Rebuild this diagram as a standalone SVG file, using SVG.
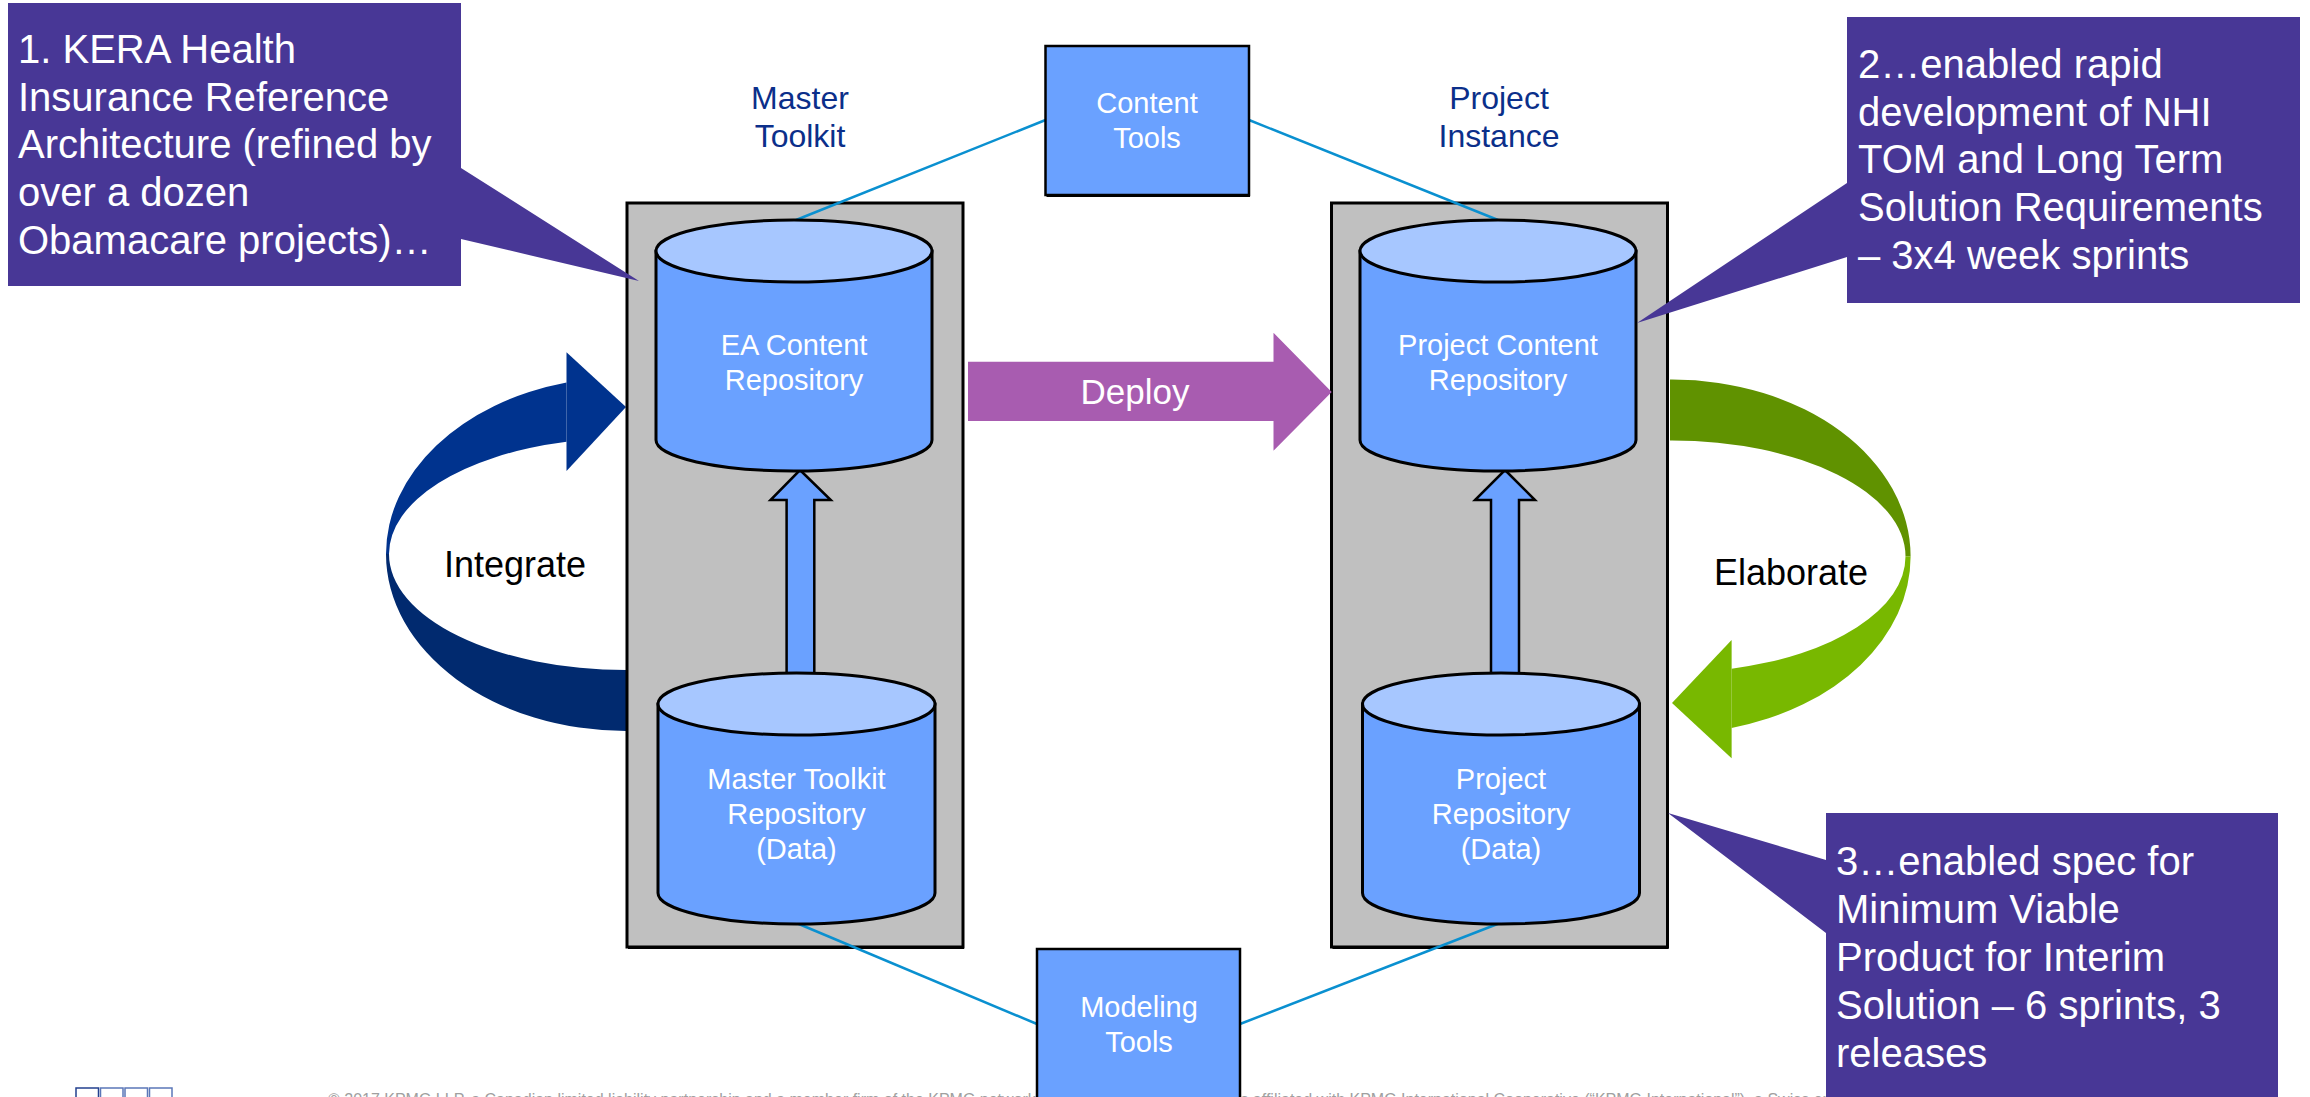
<svg xmlns="http://www.w3.org/2000/svg" width="2310" height="1097" viewBox="0 0 2310 1097">
  <style>
    .panel { fill: #c0c0c0; stroke: #000; stroke-width: 3; }
    .shade { fill: #000; }
    .body { fill: #6aa1ff; stroke: #000; stroke-width: 3; }
    .lid { fill: #a7c7ff; stroke: #000; stroke-width: 3; }
    .tool { fill: #6aa1ff; stroke: #000; stroke-width: 2.5; }
    .lift { fill: #6aa1ff; stroke: #000; stroke-width: 2.5; stroke-linejoin: miter; }
    .link { stroke: #0a90d0; stroke-width: 2.5; fill: none; }
    .callout { fill: #483796; }
    .ctext { font-family: "Liberation Sans", Arial, sans-serif; font-size: 40px; fill: #fff; }
    .wtext { font-family: "Liberation Sans", Arial, sans-serif; font-size: 29px; fill: #fff; text-anchor: middle; }
    .htext { font-family: "Liberation Sans", Arial, sans-serif; font-size: 32px; fill: #0b2f8a; text-anchor: middle; }
    .btext { font-family: "Liberation Sans", Arial, sans-serif; font-size: 36px; fill: #000; text-anchor: middle; }
  </style>

  <rect width="2310" height="1097" fill="#fff"/>

  <!-- Integrate: curved arrow on the left -->
  <g id="integrate-arrow">
    <path d="M566.5,382.5 A240,177 0 0 0 386,554 L389,554 A237,116 0 0 1 566.5,441.7 Z" fill="#00338e"/>
    <path d="M386,554 A240,177 0 0 0 626,731 L629,731 L629,670 L626,670 A237,116 0 0 1 389,554 Z" fill="#012a6f"/>
    <polygon points="566.5,352.3 626,407 566.5,471" fill="#00338e"/>
    <text class="btext" x="515" y="577">Integrate</text>
  </g>

  <!-- Elaborate: curved arrow on the right -->
  <g id="elaborate-arrow">
    <path d="M1670,379.5 L1672,379.5 A238.6,177 0 0 1 1910.6,556.5 L1905.5,556.5 A233.5,116 0 0 0 1672,440.5 L1670,440.5 Z" fill="#609200"/>
    <path d="M1910.6,556.5 A238.6,177 0 0 1 1731.6,727.9 L1731.6,668.7 A233.5,116 0 0 0 1905.5,556.5 Z" fill="#78b800"/>
    <polygon points="1731.6,640 1672,703 1731.6,758.3" fill="#78b800"/>
    <text class="btext" x="1791" y="585">Elaborate</text>
  </g>

  <!-- Column frames -->
  <g id="master-toolkit">
    <rect class="shade" x="628" y="205" width="336" height="744"/>
    <rect class="panel" x="627" y="203" width="336" height="744"/>
    <text class="htext" x="800" y="109">Master</text>
    <text class="htext" x="800" y="147">Toolkit</text>
  </g>
  <g id="project-instance">
    <rect class="shade" x="1332.5" y="205" width="336" height="744"/>
    <rect class="panel" x="1331.5" y="203" width="336" height="744"/>
    <text class="htext" x="1499" y="109">Project</text>
    <text class="htext" x="1499" y="147">Instance</text>
  </g>

  <!-- Tool links -->
  <g id="connectors">
    <line class="link" x1="1045.5" y1="120" x2="796" y2="220"/>
    <line class="link" x1="1249" y1="120" x2="1498" y2="220"/>
    <line class="link" x1="1037" y1="1024" x2="796.5" y2="923"/>
    <line class="link" x1="1240" y1="1024" x2="1500" y2="923"/>
    <polygon class="lift" points="800,470 830.8,500 814.3,500 814.3,690 786.6,690 786.6,500 770.5,500"/>
    <polygon class="lift" points="1505,470 1535,500 1519,500 1519,690 1491,690 1491,500 1475,500"/>
    <polygon points="968,361.7 1273.5,361.7 1273.5,332.7 1331.7,392 1273.5,450.7 1273.5,421 968,421" fill="#a85cb0"/>
    <text x="1135" y="404" font-family="Liberation Sans, Arial, sans-serif" font-size="35" fill="#fff" text-anchor="middle">Deploy</text>
  </g>

  <!-- Repositories -->
  <g id="ea-content-repository">
    <path class="body" d="M656,251 V440 A138,31 0 0 0 932,440 V251 Z"/>
    <ellipse class="lid" cx="794" cy="251" rx="138" ry="31"/>
    <text class="wtext" x="794" y="355">EA Content</text>
    <text class="wtext" x="794" y="390">Repository</text>
  </g>
  <g id="project-content-repository">
    <path class="body" d="M1360,251 V440 A138,31 0 0 0 1636,440 V251 Z"/>
    <ellipse class="lid" cx="1498" cy="251" rx="138" ry="31"/>
    <text class="wtext" x="1498" y="355">Project Content</text>
    <text class="wtext" x="1498" y="390">Repository</text>
  </g>
  <g id="master-toolkit-repository">
    <path class="body" d="M658,704 V893 A138.5,31 0 0 0 935,893 V704 Z"/>
    <ellipse class="lid" cx="796.5" cy="704" rx="138.5" ry="31"/>
    <text class="wtext" x="796.5" y="789">Master Toolkit</text>
    <text class="wtext" x="796.5" y="824">Repository</text>
    <text class="wtext" x="796.5" y="859">(Data)</text>
  </g>
  <g id="project-repository">
    <path class="body" d="M1362.5,704 V893 A138.5,31 0 0 0 1639.5,893 V704 Z"/>
    <ellipse class="lid" cx="1501" cy="704" rx="138.5" ry="31"/>
    <text class="wtext" x="1501" y="789">Project</text>
    <text class="wtext" x="1501" y="824">Repository</text>
    <text class="wtext" x="1501" y="859">(Data)</text>
  </g>

  <!-- Footer -->
  <g id="footer">
    <rect x="76" y="1088" width="22.5" height="30" fill="none" stroke="#23408f" stroke-width="1.5"/>
    <rect x="100.5" y="1088" width="22.5" height="30" fill="none" stroke="#5b77b8" stroke-width="1.5"/>
    <rect x="125" y="1088" width="22.5" height="30" fill="none" stroke="#5b77b8" stroke-width="1.5"/>
    <rect x="149.5" y="1088" width="22.5" height="30" fill="none" stroke="#5b77b8" stroke-width="1.5"/>
    <text x="328" y="1104.5" font-family="Liberation Sans, Arial, sans-serif" font-size="16" fill="#a0a0a0">© 2017 KPMG LLP, a Canadian limited liability partnership and a member firm of the KPMG network of independent member firms affiliated with KPMG International Cooperative (“KPMG International”), a Swiss entity. All rights reserved.</text>
  </g>

  <!-- Tools -->
  <g id="content-tools">
    <rect class="shade" x="1046.5" y="48" width="203.5" height="149"/>
    <rect class="tool" x="1045.5" y="46" width="203.5" height="149"/>
    <text class="wtext" x="1147" y="113">Content</text>
    <text class="wtext" x="1147" y="148">Tools</text>
  </g>
  <g id="modeling-tools">
    <rect class="tool" x="1037" y="949" width="203" height="160"/>
    <text class="wtext" x="1139" y="1017">Modeling</text>
    <text class="wtext" x="1139" y="1052">Tools</text>
  </g>

  <!-- Callouts -->
  <g id="callout-1">
    <path class="callout" d="M8,3 H461 V168 L639,281 L461,239 V286 H8 Z"/>
    <text class="ctext" x="18" y="63">1. KERA Health</text>
    <text class="ctext" x="18" y="111">Insurance Reference</text>
    <text class="ctext" x="18" y="158">Architecture (refined by</text>
    <text class="ctext" x="18" y="206">over a dozen</text>
    <text class="ctext" x="18" y="254">Obamacare projects)…</text>
  </g>
  <g id="callout-2">
    <path class="callout" d="M1847,17 H2300 V303 H1847 V257 L1637,323 L1847,183 Z"/>
    <text class="ctext" x="1858" y="78">2…enabled rapid</text>
    <text class="ctext" x="1858" y="126">development of NHI</text>
    <text class="ctext" x="1858" y="173">TOM and Long Term</text>
    <text class="ctext" x="1858" y="221">Solution Requirements</text>
    <text class="ctext" x="1858" y="269">– 3x4 week sprints</text>
  </g>
  <g id="callout-3">
    <path class="callout" d="M1826,813 H2278 V1100 H1826 V933 L1668,813 L1826,860 Z"/>
    <text class="ctext" x="1836" y="875">3…enabled spec for</text>
    <text class="ctext" x="1836" y="923">Minimum Viable</text>
    <text class="ctext" x="1836" y="971">Product for Interim</text>
    <text class="ctext" x="1836" y="1019">Solution – 6 sprints, 3</text>
    <text class="ctext" x="1836" y="1067">releases</text>
  </g>
</svg>
